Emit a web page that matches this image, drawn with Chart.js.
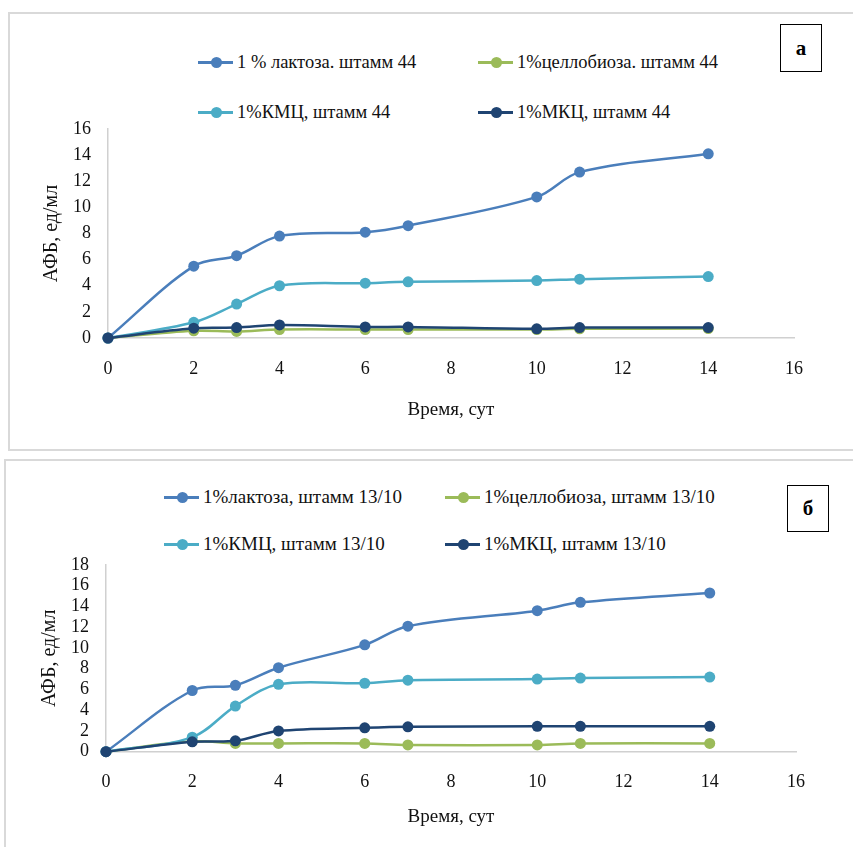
<!DOCTYPE html>
<html>
<head>
<meta charset="utf-8">
<script src="https://cdn.jsdelivr.net/npm/chart.js@4.4.0/dist/chart.umd.min.js"></script>
<style>
  body { margin: 0; background: #fff; width: 853px; height: 847px; overflow: hidden; position: relative; font-family: "Liberation Serif", "Times New Roman", serif; }
  .frame { position: absolute; border: 2px solid #d9d9d9; box-sizing: border-box; }
  .tag { position: absolute; border: 1.5px solid #000; box-sizing: border-box; font-weight: bold; font-size: 21px; display: flex; align-items: center; justify-content: center; }
  canvas { position: absolute; left: 0; }
  .leg { position: absolute; display: flex; align-items: center; color: #111; white-space: nowrap; height: 20px; transform: translateY(-10px); }
  .leg .ln { position: relative; width: 35px; height: 3px; margin-right: 4px; }
  .leg .ln i { position: absolute; left: 13px; top: -4px; width: 11px; height: 11px; border-radius: 50%; background: inherit; }
</style>
</head>
<body>
<div class="frame" style="left:8px; top:12px; width:860px; height:439px;"></div>
<div class="frame" style="left:4px; top:459px; width:870px; height:400px;"></div>
<div class="tag" style="left:780px; top:24px; width:42px; height:48px;">а</div>
<div class="tag" style="left:787px; top:485px; width:42px; height:47px;">б</div>
<div id="legA"></div>
<div id="legB"></div>
<canvas id="chartA" style="top:0;"></canvas>
<canvas id="chartB" style="top:450px;"></canvas>
<script>
// время, сут
var days = [0, 2, 3, 4, 6, 7, 10, 11, 14];

// штамм 44
var lactoza44 = [0, 5.5, 6.3, 7.8, 8.1, 8.6, 10.8, 12.7, 14.1];
var cellobioza44 = [0, 0.55, 0.5, 0.65, 0.65, 0.65, 0.65, 0.7, 0.72];
var kmc44 = [0, 1.2, 2.6, 4.0, 4.2, 4.3, 4.4, 4.5, 4.7];
var mkc44 = [0, 0.75, 0.8, 1.0, 0.85, 0.85, 0.7, 0.8, 0.8];

// штамм 13/10
var lactoza1310 = [0, 5.9, 6.4, 8.1, 10.3, 12.1, 13.6, 14.4, 15.3];
var cellobioza1310 = [0, 1.0, 0.8, 0.8, 0.8, 0.65, 0.65, 0.8, 0.8];
var kmc1310 = [0, 1.4, 4.4, 6.5, 6.6, 6.9, 7.0, 7.1, 7.2];
var mkc1310 = [0, 0.95, 1.05, 2.0, 2.3, 2.4, 2.45, 2.45, 2.45];

var labelsA = ['1 % лактоза. штамм 44', '1%целлобиоза. штамм 44', '1%КМЦ, штамм 44', '1%МКЦ, штамм 44'];
var labelsB = ['1%лактоза, штамм 13/10', '1%целлобиоза, штамм 13/10', '1%КМЦ, штамм 13/10', '1%МКЦ, штамм 13/10'];

var colors = ['#4a7ebb', '#9bbb59', '#4bacc6', '#1f4472'];
var serif = "'Liberation Serif', 'Times New Roman', serif";

function points(values) {
    return values.map(function (v, i) { return { x: days[i], y: v }; });
}

// легенда в две колонки, как в оригинале
function legend(id, labels, cols, rows, size) {
    var box = document.getElementById(id);
    labels.forEach(function (text, i) {
        var d = document.createElement('div');
        d.className = 'leg';
        d.style.left = cols[i % 2] + 'px';
        d.style.top = rows[Math.floor(i / 2)] + 'px';
        d.style.fontSize = size + 'px';
        d.innerHTML = '<span class="ln" style="background:' + colors[i] + '"><i></i></span>' + text;
        box.appendChild(d);
    });
}

legend('legA', labelsA, [198, 478], [62, 112], 18.5);
legend('legB', labelsB, [164, 445], [497, 544], 19);

function makeChart(id, series, labels, yMax, o) {
    var canvas = document.getElementById(id);
    canvas.width = 853;
    canvas.height = o.height;
    canvas.style.width = '853px';
    canvas.style.height = o.height + 'px';

    var order = [1, 3, 2, 0];
    new Chart(canvas, {
        type: 'line',
        data: {
            datasets: series.map(function (s, i) {
                return {
                    label: labels[i],
                    data: points(s),
                    borderColor: colors[i],
                    backgroundColor: colors[i],
                    borderWidth: 2.5,
                    pointRadius: 5.5,
                    pointBorderWidth: 0,
                    tension: 0.35,
                    clip: false,
                    order: order[i]
                };
            })
        },
        options: {
            responsive: false,
            animation: false,
            events: [],
            layout: { padding: o.padding },
            plugins: {
                legend: { display: false },
                tooltip: { enabled: false }
            },
            scales: {
                x: {
                    type: 'linear',
                    min: 0,
                    max: 16,
                    ticks: { stepSize: 2, autoSkip: false, maxRotation: 0, padding: 20, color: '#111', font: { family: serif, size: 18 } },
                    grid: { display: false, drawTicks: false },
                    border: { display: true, color: '#d0d0d0', width: 1.5 },
                    title: { display: true, text: 'Время, сут', color: '#111', padding: 0, font: { family: serif, size: 19 } },
                    afterFit: function (scale) { scale.height = o.xh; }
                },
                y: {
                    min: 0,
                    max: yMax,
                    ticks: { stepSize: 2, autoSkip: false, padding: 17, color: '#111', font: { family: serif, size: 18 } },
                    grid: { display: false, drawTicks: false },
                    border: { display: true, color: '#d0d0d0', width: 1.5 },
                    title: { display: true, text: 'АФБ, ед/мл', color: '#111', padding: 0, font: { family: serif, size: 20 } },
                    afterFit: function (scale) { scale.width = o.yw; }
                }
            }
        }
    });
}

makeChart('chartA', [lactoza44, cellobioza44, kmc44, mkc44], labelsA, 16, {
    height: 450, yw: 68, xh: 83,
    padding: { left: 40, right: 59, top: 129, bottom: 29 }
});

makeChart('chartB', [lactoza1310, cellobioza1310, kmc1310, mkc1310], labelsB, 18, {
    height: 397, yw: 68, xh: 76.4,
    padding: { left: 38, right: 57, top: 115, bottom: 18.9 }
});
</script>
</body>
</html>
